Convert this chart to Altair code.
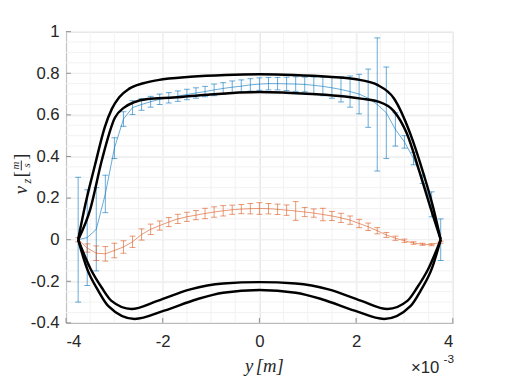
import altair as alt
import pandas as pd

# sample positions (axis in units of 1e-3 m)
y_pos = [-3.75, -3.5625, -3.375, -3.1875, -3.0, -2.8125, -2.625, -2.4375, -2.25, -2.0625,
         -1.875, -1.6875, -1.5, -1.3125, -1.125, -0.9375, -0.75, -0.5625, -0.375, -0.1875,
         0.0, 0.1875, 0.375, 0.5625, 0.75, 0.9375, 1.125, 1.3125, 1.5, 1.6875,
         1.875, 2.0625, 2.25, 2.4375, 2.625, 2.8125, 3.0, 3.1875, 3.375, 3.5625, 3.75]

blue_v = [0.00, 0.01, 0.05, 0.22, 0.44, 0.58, 0.635, 0.65, 0.663, 0.675,
          0.682, 0.69, 0.698, 0.705, 0.712, 0.72, 0.727, 0.733, 0.738, 0.744,
          0.748, 0.75, 0.75, 0.749, 0.748, 0.746, 0.742, 0.737, 0.73, 0.722,
          0.712, 0.70, 0.68, 0.65, 0.61, 0.53, 0.47, 0.39, 0.29, 0.17, 0.00]
blue_err = [0.30, 0.23, 0.20, 0.09, 0.05, 0.035, 0.033, 0.028, 0.026, 0.025,
            0.025, 0.025, 0.025, 0.025, 0.025, 0.028, 0.028, 0.03, 0.03, 0.03,
            0.03, 0.03, 0.03, 0.032, 0.035, 0.035, 0.04, 0.045, 0.05, 0.06,
            0.075, 0.095, 0.14, 0.32, 0.22, 0.08, 0.03, 0.03, 0.02, 0.06, 0.10]

orange_v = [0.0, -0.04, -0.065, -0.068, -0.052, -0.035, -0.01, 0.025, 0.05, 0.068,
            0.085, 0.1, 0.11, 0.118, 0.126, 0.133, 0.139, 0.144, 0.147, 0.149,
            0.15, 0.149, 0.146, 0.142, 0.138, 0.133, 0.128, 0.121, 0.114, 0.105,
            0.094, 0.078, 0.062, 0.043, 0.023, 0.007, -0.005, -0.016, -0.022, -0.024, -0.012]
orange_err = [0.01, 0.02, 0.035, 0.035, 0.035, 0.03, 0.027, 0.027, 0.025, 0.022,
              0.022, 0.022, 0.022, 0.022, 0.025, 0.025, 0.025, 0.022, 0.022, 0.025,
              0.028, 0.025, 0.025, 0.025, 0.045, 0.022, 0.02, 0.03, 0.022, 0.022,
              0.02, 0.02, 0.018, 0.015, 0.012, 0.01, 0.008, 0.006, 0.005, 0.005, 0.005]

# black envelope curves
uo_x = [-3.75, -3.6, -3.4, -3.2, -3.05, -2.9, -2.7, -2.4, -2.1, -1.43, -0.7, 0.0,
        0.7, 1.43, 2.1, 2.44, 2.78, 3.12, 3.39, 3.6, 3.75]
uo_v = [0.0, 0.17, 0.36, 0.54, 0.63, 0.685, 0.725, 0.752, 0.767, 0.783, 0.792, 0.795,
        0.792, 0.783, 0.767, 0.744, 0.68, 0.51, 0.32, 0.15, 0.0]
ui_x = [-3.75, -3.5, -3.26, -2.99, -2.8, -2.6, -2.31, -1.77, -1.09, 0.0,
        1.09, 1.77, 2.1, 2.44, 2.78, 3.05, 3.32, 3.55, 3.75]
ui_v = [0.0, 0.146, 0.382, 0.586, 0.635, 0.66, 0.676, 0.683, 0.697, 0.71,
        0.70, 0.688, 0.678, 0.665, 0.618, 0.51, 0.32, 0.146, 0.0]
li_x = [-3.75, -3.5, -3.26, -3.06, -2.65, -2.11, -1.43, -0.75, 0.0,
        0.75, 1.43, 2.11, 2.65, 3.06, 3.26, 3.5, 3.75]
li_v = [0.0, -0.137, -0.231, -0.294, -0.333, -0.294, -0.239, -0.211, -0.204,
        -0.211, -0.239, -0.294, -0.333, -0.294, -0.231, -0.137, 0.0]
lo_x = [-3.75, -3.57, -3.33, -3.13, -2.58, -1.97, -1.29, -0.75, 0.0,
        0.75, 1.29, 1.97, 2.58, 3.13, 3.33, 3.57, 3.75]
lo_v = [0.0, -0.137, -0.247, -0.318, -0.381, -0.341, -0.286, -0.255, -0.242,
        -0.255, -0.286, -0.341, -0.381, -0.318, -0.247, -0.137, 0.0]

x_ticks = [-4, -2, 0, 2, 4]
y_ticks = [-0.4, -0.2, 0, 0.2, 0.4, 0.6, 0.8, 1]
x_minor = [-4, -3.5, -3, -2.5, -2, -1.5, -1, -0.5, 0, 0.5, 1, 1.5, 2, 2.5, 3, 3.5, 4]
y_minor = [round(-0.4 + 0.05 * k, 2) for k in range(29)]

BLUE = "#0072BD"
ORANGE = "#D95319"
W, H = 393, 296

def series_df(vals, errs, name):
    return pd.DataFrame({
        "x": y_pos, "v": vals,
        "lo": [a - b for a, b in zip(vals, errs)],
        "hi": [a + b for a, b in zip(vals, errs)],
        "s": name,
    })

blue = series_df(blue_v, blue_err, "blue")
orange = series_df(orange_v, orange_err, "orange")

curves = pd.concat([
    pd.DataFrame({"x": uo_x, "v": uo_v, "c": "uo"}),
    pd.DataFrame({"x": ui_x, "v": ui_v, "c": "ui"}),
    pd.DataFrame({"x": li_x, "v": li_v, "c": "li"}),
    pd.DataFrame({"x": lo_x, "v": lo_v, "c": "lo"}),
])

xs = alt.Scale(domain=[-4, 4], nice=False, zero=False)
ys = alt.Scale(domain=[-0.4, 1], nice=False, zero=False)

xaxis = alt.Axis(values=x_ticks, labelExpr="datum.value + ''", grid=True,
                 gridColor="#e6e6e6", ticks=False, tickSize=0, labelPadding=11,
                 labelFont="Liberation Sans", labelFontSize=17, labelColor="#262626",
                 domainColor="#8c8c8c", title=None)
yaxis = alt.Axis(values=y_ticks, labelExpr="datum.value + ''", grid=True,
                 gridColor="#e6e6e6", ticks=False, tickSize=0, labelPadding=7,
                 labelFont="Liberation Sans", labelFontSize=17, labelColor="#262626",
                 domainColor="#8c8c8c", title=None)

X = lambda f: alt.X(f, type="quantitative", scale=xs, axis=xaxis)
Y = lambda f: alt.Y(f, type="quantitative", scale=ys, axis=yaxis)

minor_x = alt.Chart(pd.DataFrame({"x": x_minor})).mark_rule(
    color="#f2f2f2", strokeWidth=1).encode(x=X("x"))
minor_y = alt.Chart(pd.DataFrame({"v": y_minor})).mark_rule(
    color="#f2f2f2", strokeWidth=1).encode(y=Y("v"))

def err_layers(df, color):
    bars = alt.Chart(df).mark_rule(color=color, strokeWidth=1, opacity=0.6).encode(
        x=X("x"), y=Y("lo"), y2="hi")
    cap_lo = alt.Chart(df).mark_tick(color=color, orient="horizontal", size=6,
                                     thickness=1, opacity=0.6).encode(x=X("x"), y=Y("lo"))
    cap_hi = alt.Chart(df).mark_tick(color=color, orient="horizontal", size=6,
                                     thickness=1, opacity=0.6).encode(x=X("x"), y=Y("hi"))
    line = alt.Chart(df).mark_line(color=color, strokeWidth=1, opacity=0.6).encode(
        x=X("x"), y=Y("v"))
    return [bars, cap_lo, cap_hi, line]

black = alt.Chart(curves).mark_line(color="black", strokeWidth=2.5,
                                    interpolate="monotone").encode(
    x=X("x"), y=Y("v"), detail="c:N")

xt = alt.Chart(pd.DataFrame({"x": x_ticks})).mark_rule(color="#8c8c8c").encode(
    x=X("x"), y=alt.value(H), y2=alt.value(H - 5))
yt = alt.Chart(pd.DataFrame({"v": y_ticks})).mark_rule(color="#8c8c8c").encode(
    y=Y("v"), x=alt.value(0), x2=alt.value(5))

def txt(s, x, y, size, font="Liberation Sans", style="normal", angle=0, align="center"):
    return alt.Chart(pd.DataFrame({"t": [s]})).mark_text(
        font=font, fontSize=size, fontStyle=style, angle=angle, align=align,
        baseline="middle", color="#262626").encode(
        x=alt.value(x), y=alt.value(y), text="t:N")

serif = "Liberation Serif"
annotations = [
    txt("y", 186, 340, 19, serif, "italic"),
    txt("[m]", 207, 340, 19, serif, "italic"),
    txt("×10", 365, 342, 17),
    txt("-3", 389, 333, 12),
    txt("v", -46, 161, 19, serif, "italic", 270),
    txt("z", -40, 152, 12, serif, "italic", 270),
    txt("[", -46, 145, 20, serif, "normal", 270),
    txt("m", -51, 136, 11, serif, "italic", 270),
    txt("s", -40, 136, 11, serif, "italic", 270),
    txt("]", -46, 127, 20, serif, "normal", 270),
]
frac = alt.Chart(pd.DataFrame({"a": [0]})).mark_rule(color="#262626").encode(
    x=alt.value(-45.5), y=alt.value(131), y2=alt.value(141))

layers = [minor_x, minor_y] + err_layers(blue, BLUE) + err_layers(orange, ORANGE) + \
         [black, xt, yt, frac] + annotations

chart = alt.layer(*layers).properties(
    width=W, height=H,
    autosize=alt.AutoSizeParams(type="none"),
    padding={"left": 59, "top": 21, "right": 49, "bottom": 56},
).configure_view(stroke=None).configure(background="white")

chart.save("out.html", embed_options={"renderer": "svg", "actions": False})
